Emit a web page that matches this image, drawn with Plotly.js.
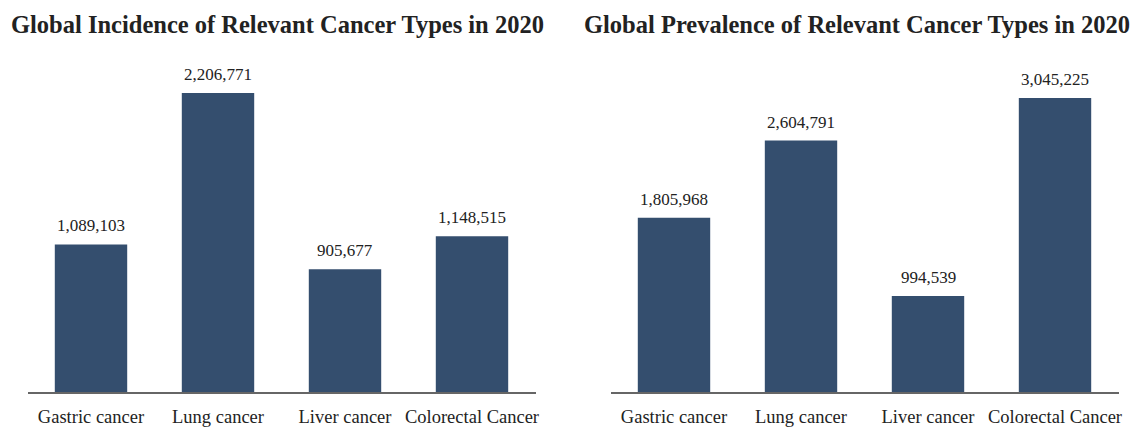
<!DOCTYPE html>
<html>
<head>
<meta charset="utf-8">
<script src="https://cdn.plot.ly/plotly-3.0.1.min.js"></script>
<style>html,body{margin:0;padding:0;background:#fff;}#chart{width:1144px;height:429px;}</style>
</head>
<body>
<div id="chart"></div>
<script>
const categories = ["Gastric cancer", "Lung cancer", "Liver cancer", "Colorectal Cancer"];
const incidence = [1089103, 2206771, 905677, 1148515];
const prevalence = [1805968, 2604791, 994539, 3045225];
const titleLeft = "Global Incidence of Relevant Cancer Types in 2020";
const titleRight = "Global Prevalence of Relevant Cancer Types in 2020";

const barColor = "#344e6e";
const serif = "'Liberation Serif', 'Times New Roman', serif";
const fmt = v => v.toLocaleString("en-US");

const traces = [
  {type: "bar", x: categories, y: incidence, xaxis: "x", yaxis: "y",
   marker: {color: barColor}, hoverinfo: "none"},
  {type: "bar", x: categories, y: prevalence, xaxis: "x2", yaxis: "y2",
   marker: {color: barColor}, hoverinfo: "none"}
];

const annotations = [];
categories.forEach((c, i) => {
  annotations.push({x: c, y: incidence[i], xref: "x", yref: "y", text: fmt(incidence[i]),
    showarrow: false, yanchor: "bottom", yshift: 7, font: {family: serif, size: 17, color: "#222"}});
  annotations.push({x: c, y: prevalence[i], xref: "x2", yref: "y2", text: fmt(prevalence[i]),
    showarrow: false, yanchor: "bottom", yshift: 7, font: {family: serif, size: 17, color: "#222"}});
});
annotations.push({text: "<b>" + titleLeft + "</b>", xref: "paper", yref: "paper", x: 0.2425, y: 1,
  xanchor: "center", yanchor: "middle", yshift: 36, showarrow: false,
  font: {family: serif, size: 24.5, color: "#222"}});
annotations.push({text: "<b>" + titleRight + "</b>", xref: "paper", yref: "paper", x: 0.7495, y: 1,
  xanchor: "center", yanchor: "middle", yshift: 36, showarrow: false,
  font: {family: serif, size: 24.5, color: "#222"}});

const xcommon = {
  type: "category", range: [-0.5, 3.5], showgrid: false, zeroline: false,
  showline: true, linecolor: "#666", linewidth: 1.5,
  ticks: "", ticklabelstandoff: 7,
  tickfont: {family: serif, size: 18.5, color: "#222"}, fixedrange: true
};
const ycommon = {showgrid: false, zeroline: false, showline: false, showticklabels: false, ticks: "", fixedrange: true};

const layout = {
  width: 1144, height: 429,
  margin: {l: 0, r: 0, t: 60, b: 37},
  paper_bgcolor: "#fff", plot_bgcolor: "#fff",
  showlegend: false, bargap: 0.43,
  xaxis: Object.assign({}, xcommon, {domain: [27.5/1144, 535.5/1144], anchor: "y"}),
  xaxis2: Object.assign({}, xcommon, {domain: [610.5/1144, 1118.5/1144], anchor: "y2"}),
  yaxis: Object.assign({}, ycommon, {range: [0, 2450000], anchor: "x"}),
  yaxis2: Object.assign({}, ycommon, {range: [0, 3440000], anchor: "x2"}),
  annotations: annotations
};

Plotly.newPlot("chart", traces, layout, {displayModeBar: false, staticPlot: true});
</script>
</body>
</html>
